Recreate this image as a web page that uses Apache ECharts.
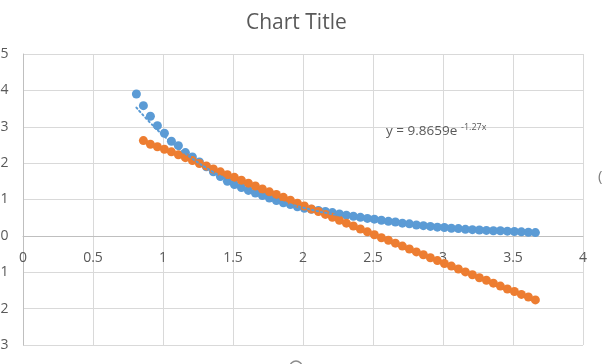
<!DOCTYPE html>
<html>
<head>
<meta charset="utf-8">
<script src="https://cdn.jsdelivr.net/npm/echarts@6/dist/echarts.min.js"></script>
<style>
html,body{margin:0;padding:0;background:#fff;}
#chart{width:602px;height:364px;}
</style>
</head>
<body>
<div id="chart"></div>
<script>
var titleText = 'Chart Title';
var xTicks = [0, 0.5, 1, 1.5, 2, 2.5, 3, 3.5, 4];
var yTicks = [-3, -2, -1, 0, 1, 2, 3, 4, 5];

var blueX = [0.81,0.86,0.91,0.96,1.01,1.06,1.11,1.16,1.21,1.26,1.31,1.36,1.41,1.46,1.51,1.56,1.61,1.66,1.71,1.76,1.81,1.86,1.91,1.96,2.01,2.06,2.11,2.16,2.21,2.26,2.31,2.36,2.41,2.46,2.51,2.56,2.61,2.66,2.71,2.76,2.81,2.86,2.91,2.96,3.01,3.06,3.11,3.16,3.21,3.26,3.31,3.36,3.41,3.46,3.51,3.56,3.61,3.66];
var blueY = [3.90,3.58,3.29,3.03,2.82,2.60,2.48,2.29,2.17,2.03,1.90,1.76,1.63,1.50,1.41,1.33,1.25,1.18,1.11,1.04,0.97,0.91,0.86,0.80,0.76,0.73,0.70,0.67,0.64,0.60,0.57,0.54,0.51,0.48,0.46,0.43,0.40,0.38,0.35,0.33,0.30,0.28,0.26,0.24,0.23,0.21,0.20,0.18,0.17,0.16,0.15,0.14,0.14,0.13,0.12,0.11,0.10,0.09];

var orangeX = [0.86,0.91,0.96,1.01,1.06,1.11,1.16,1.21,1.26,1.31,1.36,1.41,1.46,1.51,1.56,1.61,1.66,1.71,1.76,1.81,1.86,1.91,1.96,2.01,2.06,2.11,2.16,2.21,2.26,2.31,2.36,2.41,2.46,2.51,2.56,2.61,2.66,2.71,2.76,2.81,2.86,2.91,2.96,3.01,3.06,3.11,3.16,3.21,3.26,3.31,3.36,3.41,3.46,3.51,3.56,3.61,3.66];
var orangeY = [2.62,2.52,2.45,2.38,2.31,2.23,2.15,2.07,1.99,1.92,1.84,1.76,1.68,1.61,1.53,1.45,1.37,1.29,1.21,1.14,1.06,0.98,0.90,0.82,0.74,0.67,0.59,0.51,0.43,0.35,0.27,0.19,0.11,0.03,-0.05,-0.12,-0.20,-0.28,-0.36,-0.44,-0.52,-0.60,-0.68,-0.76,-0.83,-0.91,-0.99,-1.07,-1.15,-1.22,-1.30,-1.38,-1.46,-1.53,-1.61,-1.68,-1.76];

// exponential trendline of the blue series (y = 9.8659e^-1.27x read at sample x)
var trendX = [0.81,0.9,1.0,1.1,1.2,1.35,1.5,1.75,2.0,2.25,2.5,2.75,3.0,3.25,3.5,3.66];
var trendY = [3.527,3.146,2.770,2.440,2.149,1.777,1.468,1.068,0.778,0.567,0.412,0.300,0.219,0.159,0.116,0.095];

var eqMain = 'y = 9.8659e';
var eqSup = '-1.27x';

function pairs(xs, ys){ return xs.map(function(x,i){ return [x, ys[i]]; }); }

var FONT = '"Open Sans", sans-serif';
var chart = echarts.init(document.getElementById('chart'), null, {renderer:'canvas'});
chart.setOption({
  animation: false,
  backgroundColor: '#fff',
  title: {
    text: titleText, left: 241, top: 8,
    textStyle: {fontFamily: FONT, fontSize: 21, fontWeight: 'normal', color: '#595959'}
  },
  grid: {left: 23, right: 19, top: 54, bottom: 19, containLabel: false, outerBoundsMode: 'none'},
  xAxis: {
    type: 'value', position: 'bottom', min: xTicks[0], max: xTicks[xTicks.length-1], interval: 0.5,
    axisLine: {show: true, onZero: false, lineStyle: {color: '#BFBFBF', width: 1}},
    axisTick: {show: false},
    axisLabel: {margin: 15, color: '#595959', fontFamily: FONT, fontSize: 14,
      formatter: function(v){ return String(v); }},
    splitLine: {show: true, lineStyle: {color: '#D9D9D9', width: 1}}
  },
  yAxis: {
    type: 'value', min: yTicks[0], max: yTicks[yTicks.length-1], interval: 1,
    axisLine: {show: true, onZero: false, lineStyle: {color: '#BFBFBF', width: 1}},
    axisTick: {show: false},
    axisLabel: {margin: 14.5, color: '#595959', fontFamily: FONT, fontSize: 14},
    splitLine: {show: true, lineStyle: {color: '#D9D9D9', width: 1}}
  },
  series: [
    {type: 'scatter', name: 'Series1', data: pairs(blueX, blueY), symbolSize: 9,
      itemStyle: {color: '#5B9BD5', opacity: 1}, z: 2},
    {type: 'scatter', name: 'Series2', data: pairs(orangeX, orangeY), symbolSize: 9,
      itemStyle: {color: '#ED7D31', opacity: 1}, z: 3},
    {type: 'line', name: 'Trend', data: pairs(trendX, trendY), smooth: true, showSymbol: false,
      lineStyle: {color: '#5B9BD5', width: 2, type: [1.5, 3], cap: 'round'}, z: 4, silent: true}
  ],
  graphic: [
    {type: 'text', left: 386, top: 124, z: 10,
      style: {text: eqMain, fontFamily: FONT, fontSize: 13.5, fill: '#595959'}},
    {type: 'text', left: 461, top: 123, z: 10,
      style: {text: eqSup, fontFamily: FONT, fontSize: 9, fill: '#595959'}},
    {type: 'text', left: 598, top: 169, z: 10,
      style: {text: '(', fontFamily: FONT, fontSize: 15, fill: '#7F7F7F'}},
    {type: 'circle', shape: {cx: 296, cy: 367, r: 6}, z: 10,
      style: {fill: 'none', stroke: '#8C8C8C', lineWidth: 1.5}}
  ]
});
// move the x axis (line + labels) up so it crosses the y axis at zero
var zeroPx = chart.convertToPixel({yAxisIndex: 0}, 0);
var bottomPx = chart.convertToPixel({yAxisIndex: 0}, yTicks[0]);
chart.setOption({xAxis: {offset: -(bottomPx - zeroPx)}});
</script>
</body>
</html>
